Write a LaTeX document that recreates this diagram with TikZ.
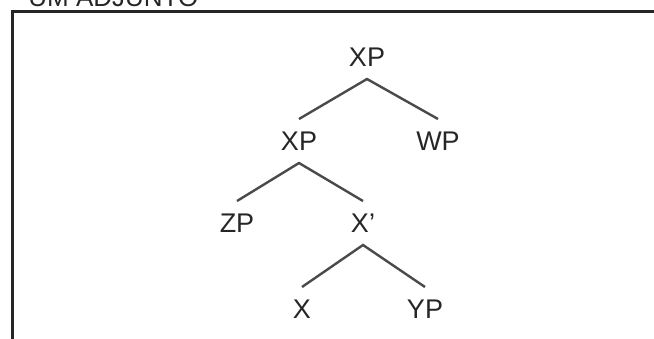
\documentclass[tikz,border=0pt]{standalone}
\usepackage{fontspec}
\setmainfont{Liberation Sans}
\definecolor{inkgray}{HTML}{262626}
\definecolor{branchgray}{HTML}{4A4A4A}
\tikzset{tag/.style={font=\fontsize{13.5}{15}\selectfont, text=inkgray, inner xsep=0pt, inner ysep=6pt, text height=9.6pt, text depth=0pt},
  branch/.style={draw=branchgray, line width=1.2pt}}

\begin{document}
\begin{tikzpicture}[x=0.5pt,y=-0.5pt]
\useasboundingbox (0,0) rectangle (654,338);
\node[anchor=base west, font=\fontsize{13}{15}\selectfont, text=inkgray, inner sep=0pt] (title) at (28,6) {UM ADJUNTO};
\draw[draw=inkgray, line width=1.1pt] (12.5,360)--(12.5,11.5)--(680,11.5);
\node[tag] (xptop) at (367,57) {XP};
\node[tag] (xpmid) at (299,141) {XP};
\node[tag] (wp) at (438,141) {WP};
\node[tag] (zp) at (237,223) {ZP};
\node[tag] (xbar) at (363,223) {X'};
\node[tag] (x) at (302,309) {X};
\node[tag] (yp) at (425,309) {YP};
\draw[branch] (xpmid.north)--(xptop.south)--(wp.north);
\draw[branch] (zp.north)--(xpmid.south)--(xbar.north);
\draw[branch] (x.north)--(xbar.south)--(yp.north);
\end{tikzpicture}
\end{document}
